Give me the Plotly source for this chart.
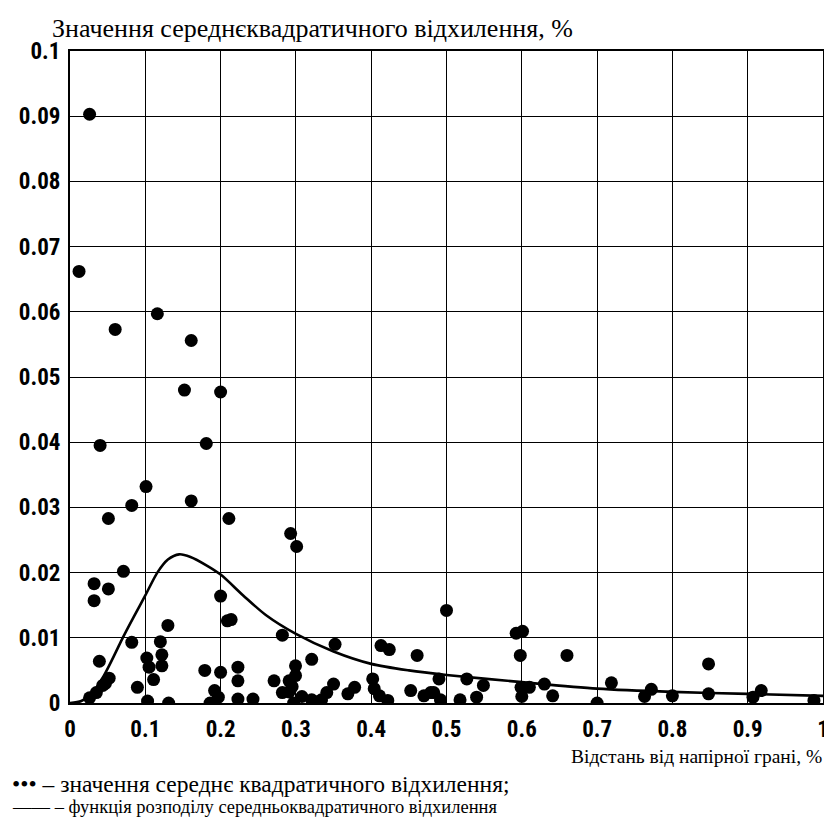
import plotly.graph_objects as go

# Scatter data: distance from pressure face (x) vs RMS deviation (y)
pts_x = [0.026, 0.012, 0.060, 0.116, 0.161, 0.152, 0.200, 0.040, 0.181, 0.101,
         0.082, 0.161, 0.051, 0.211, 0.293, 0.301, 0.071, 0.032, 0.032, 0.051,
         0.200, 0.214, 0.209, 0.130, 0.282, 0.500, 0.5925, 0.601, 0.598, 0.660,
         0.848, 0.461, 0.413, 0.424, 0.352, 0.321,
         0.082, 0.120, 0.039, 0.102, 0.122, 0.122, 0.105, 0.111, 0.0895, 0.052,
         0.0435, 0.035, 0.026, 0.103, 0.131, 0.047,
         0.179, 0.200, 0.223, 0.223, 0.271, 0.2995, 0.2995, 0.291, 0.192, 0.197,
         0.223, 0.243, 0.282, 0.291, 0.308, 0.321, 0.186, 0.297, 0.295,
         0.350, 0.341, 0.378, 0.369, 0.402, 0.404, 0.411, 0.422, 0.4525, 0.470,
         0.483, 0.334,
         0.490, 0.527, 0.549, 0.479, 0.518, 0.540, 0.599, 0.610, 0.630, 0.641,
         0.492, 0.600,
         0.719, 0.700, 0.763, 0.772, 0.800,
         0.848, 0.918, 0.907, 0.988]
pts_y = [0.0903, 0.0662, 0.0573, 0.0597, 0.0556, 0.0480, 0.0477, 0.0395, 0.0398, 0.0332,
         0.0303, 0.0310, 0.0283, 0.0283, 0.0260, 0.0240, 0.0202, 0.0183, 0.0157, 0.0175,
         0.0164, 0.0128, 0.0126, 0.0119, 0.0104, 0.0142, 0.0107, 0.0110, 0.0073, 0.0073,
         0.0060, 0.0073, 0.0088, 0.0082, 0.0090, 0.0067,
         0.0093, 0.0094, 0.0064, 0.0069, 0.0074, 0.0057, 0.0055, 0.0036, 0.0024, 0.0038,
         0.0027, 0.0016, 0.0008, 0.0003, 0.0000, 0.0030,
         0.0050, 0.0047, 0.0055, 0.0034, 0.0034, 0.0057, 0.0042, 0.0034, 0.0019, 0.0009,
         0.0006, 0.0006, 0.0016, 0.0017, 0.0010, 0.0005, 0.0000, 0.0000, 0.0025,
         0.0029, 0.0016, 0.0024, 0.0014, 0.0037, 0.0022, 0.0011, 0.0004, 0.0019, 0.0011,
         0.0016, 0.0005,
         0.0037, 0.0037, 0.0027, 0.0016, 0.0005, 0.0009, 0.0024, 0.0024, 0.0029, 0.0011,
         0.0005, 0.0010,
         0.0031, 0.0000, 0.0010, 0.0021, 0.0011,
         0.0014, 0.0019, 0.0009, 0.0004]

# Distribution function curve
curve_x = [0, 0.015, 0.03, 0.045, 0.06, 0.07, 0.085, 0.1, 0.116, 0.13, 0.145, 0.16,
           0.18, 0.2, 0.23, 0.26, 0.3, 0.35, 0.4, 0.45, 0.5, 0.6, 0.7, 0.8, 0.9, 1.0]
curve_y = [0, 0.0003, 0.0016, 0.0042, 0.0076, 0.0100, 0.0133, 0.0165, 0.0200, 0.0220,
           0.0228, 0.0224, 0.0212, 0.0197, 0.0165, 0.0135, 0.0106, 0.0079, 0.0060,
           0.0050, 0.0043, 0.0032, 0.0022, 0.0017, 0.0014, 0.0011]

x_ticks = [0, 0.1, 0.2, 0.3, 0.4, 0.5, 0.6, 0.7, 0.8, 0.9, 1.0]
x_tick_text = ["0", "0.1", "0.2", "0.3", "0.4", "0.5", "0.6", "0.7", "0.8", "0.9", "1"]
y_ticks = [0, 0.01, 0.02, 0.03, 0.04, 0.05, 0.06, 0.07, 0.08, 0.09, 0.1]
y_tick_text = ["0", "0.01", "0.02", "0.03", "0.04", "0.05", "0.06", "0.07", "0.08", "0.09", "0.1"]

y_title = "Значення середнєквадратичного відхилення, %"
x_title = "Відстань від напірної грані, %"
legend_1 = "••• – значення середнє квадратичного відхилення;"
legend_2 = "—— – функція розподілу середньоквадратичного відхилення"

tick_font = dict(family="Roboto Condensed", size=23, color="black", weight="bold")
serif = "Liberation Serif"

fig = go.Figure()
fig.add_trace(go.Scatter(x=curve_x, y=curve_y, mode="lines",
                         line=dict(color="black", width=2.6, shape="spline", smoothing=0.8),
                         showlegend=False, hoverinfo="skip"))
fig.add_trace(go.Scatter(x=pts_x, y=pts_y, mode="markers",
                         marker=dict(color="black", size=13, line=dict(width=0)),
                         showlegend=False))

W, H = 832, 819
L, R, T, B = 58.5, 11, 43, 124
pw, ph = W - L - R, H - T - B

def px(xp):
    return (xp - L) / pw

def py(yp):
    return (H - B - yp) / ph

fig.update_layout(
    width=W, height=H,
    margin=dict(l=L, r=R, t=T, b=B, pad=0),
    paper_bgcolor="white", plot_bgcolor="white",
    font=dict(family=serif, color="black"),
    xaxis=dict(range=[0, 1], tickvals=x_ticks, ticktext=x_tick_text, tickfont=tick_font,
               showgrid=True, gridcolor="black", gridwidth=1.3, zeroline=False,
               showline=True, linecolor="black", linewidth=2, mirror=True,
               ticks="", ticklabelstandoff=4, fixedrange=True),
    yaxis=dict(range=[0, 0.1], tickvals=y_ticks, ticktext=y_tick_text, tickfont=tick_font,
               showgrid=True, gridcolor="black", gridwidth=1.3, zeroline=False,
               showline=True, linecolor="black", linewidth=2, mirror=True,
               ticks="", ticklabelstandoff=3, fixedrange=True),
    annotations=[
        dict(text=y_title, xref="paper", yref="paper", x=px(38), y=py(20),
             xanchor="left", yanchor="middle", showarrow=False,
             font=dict(family=serif, size=26, color="black")),
        dict(text=x_title, xref="paper", yref="paper", x=px(822), y=py(748),
             xanchor="right", yanchor="middle", showarrow=False,
             font=dict(family=serif, size=19.5, color="black")),
        dict(text=legend_1, xref="paper", yref="paper", x=px(-2), y=py(776),
             xanchor="left", yanchor="middle", showarrow=False,
             font=dict(family=serif, size=23.5, color="black")),
        dict(text=legend_2, xref="paper", yref="paper", x=px(-2), y=py(799),
             xanchor="left", yanchor="middle", showarrow=False,
             font=dict(family=serif, size=18.5, color="black")),
    ],
)

fig.write_html("out.html")
